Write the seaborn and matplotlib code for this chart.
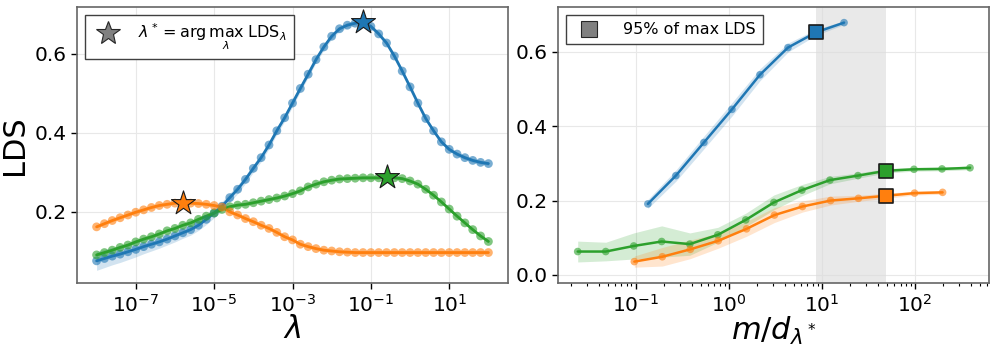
import numpy as np
import pandas as pd
import matplotlib
matplotlib.use("Agg")
import matplotlib.pyplot as plt
import seaborn as sns
from matplotlib.lines import Line2D
from matplotlib.ticker import NullLocator

# ---------------- data: left panel (LDS vs lambda) ----------------
lam = np.logspace(-8, 2, 51)

lds_blue = [0.076, 0.082, 0.088, 0.093, 0.099, 0.105, 0.112, 0.118, 0.124, 0.131,
            0.139, 0.147, 0.155, 0.166, 0.181, 0.197, 0.214, 0.236, 0.257, 0.282,
            0.310, 0.337, 0.369, 0.405, 0.438, 0.475, 0.512, 0.548, 0.585, 0.617,
            0.644, 0.663, 0.672, 0.677, 0.679, 0.669, 0.650, 0.627, 0.594, 0.556,
            0.516, 0.475, 0.436, 0.405, 0.377, 0.358, 0.346, 0.337, 0.330, 0.325,
            0.322]
sd_blue = [0.024, 0.023, 0.022, 0.021, 0.020, 0.019, 0.018, 0.017, 0.016, 0.015,
           0.015, 0.014, 0.014, 0.013, 0.013, 0.012, 0.012, 0.011, 0.011, 0.010,
           0.010, 0.010, 0.009, 0.009, 0.009, 0.009, 0.008, 0.008, 0.008, 0.008,
           0.007, 0.007, 0.007, 0.006, 0.006, 0.006, 0.006, 0.006, 0.006, 0.006,
           0.005, 0.005, 0.005, 0.005, 0.005, 0.005, 0.005, 0.005, 0.005, 0.005,
           0.005]

lds_orange = [0.162, 0.170, 0.178, 0.185, 0.192, 0.199, 0.205, 0.211, 0.216, 0.219,
              0.222, 0.223, 0.222, 0.221, 0.219, 0.216, 0.212, 0.200, 0.192, 0.183,
              0.175, 0.166, 0.158, 0.148, 0.137, 0.129, 0.118, 0.112, 0.107, 0.103,
              0.101, 0.099, 0.098, 0.097, 0.097, 0.097, 0.097, 0.097, 0.097, 0.097,
              0.097, 0.097, 0.097, 0.097, 0.097, 0.097, 0.097, 0.097, 0.097, 0.097,
              0.097]

lds_green = [0.091, 0.097, 0.103, 0.110, 0.116, 0.124, 0.131, 0.137, 0.144, 0.152,
             0.158, 0.166, 0.172, 0.181, 0.189, 0.197, 0.206, 0.213, 0.217, 0.219,
             0.223, 0.227, 0.231, 0.235, 0.240, 0.246, 0.253, 0.263, 0.270, 0.276,
             0.280, 0.283, 0.284, 0.285, 0.286, 0.286, 0.286, 0.288, 0.286, 0.284,
             0.278, 0.270, 0.257, 0.242, 0.225, 0.207, 0.189, 0.172, 0.155, 0.139,
             0.125]
sd_thin = 0.003

# ---------------- data: right panel (LDS vs m/d) ----------------
md_blue = [0.135, 0.27, 0.54, 1.08, 2.16, 4.32, 8.65, 17.3]
rl_blue = [0.191, 0.267, 0.356, 0.445, 0.538, 0.611, 0.652, 0.678]
re_blue = [0.012, 0.015, 0.017, 0.018, 0.016, 0.012, 0.008, 0.005]

md_green = [0.0238, 0.0476, 0.0952, 0.19, 0.381, 0.762, 1.52, 3.05, 6.1, 12.2,
            24.4, 48.8, 97.5, 195, 390]
rl_green = [0.063, 0.063, 0.078, 0.090, 0.083, 0.108, 0.148, 0.195, 0.228, 0.255,
            0.267, 0.280, 0.284, 0.285, 0.288]
re_green = [0.028, 0.025, 0.035, 0.042, 0.030, 0.020, 0.018, 0.020, 0.015, 0.010,
            0.007, 0.006, 0.005, 0.005, 0.005]

md_orange = [0.0966, 0.193, 0.386, 0.77, 1.55, 3.09, 6.18, 12.4, 24.7, 49.4, 98.9, 198]
rl_orange = [0.036, 0.049, 0.069, 0.092, 0.124, 0.161, 0.184, 0.200, 0.206, 0.213,
             0.220, 0.222]
re_orange = [0.015, 0.025, 0.025, 0.020, 0.020, 0.020, 0.015, 0.012, 0.008, 0.007,
             0.005, 0.005]

C_BLUE, C_ORANGE, C_GREEN = "#1f77b4", "#ff7f0e", "#2ca02c"

sns.set_style("whitegrid", {"axes.edgecolor": "0.35", "grid.color": "0.91",
                            "xtick.bottom": True, "ytick.left": True,
                            "xtick.color": "black", "ytick.color": "black",
                            "text.color": "black", "axes.labelcolor": "black"})
plt.rcParams["font.family"] = ["DejaVu Sans"]
plt.rcParams["mathtext.fontset"] = "dejavusans"

fig = plt.figure(figsize=(9.97, 3.48), dpi=100)
axL = fig.add_axes([77 / 997, 65 / 348, 431 / 997, 276 / 348])
axR = fig.add_axes([558 / 997, 65 / 348, 431 / 997, 276 / 348])

# ---------------- left panel ----------------
left_series = [(lds_blue, sd_blue, C_BLUE), (lds_green, None, C_GREEN),
               (lds_orange, None, C_ORANGE)]
for vals, sd, col in left_series:
    v = np.asarray(vals)
    s = np.asarray(sd) if sd is not None else np.full_like(v, sd_thin)
    axL.fill_between(lam, v - s, v + s, color=col, alpha=0.2, lw=0, zorder=2)
    sns.lineplot(x=lam, y=v, ax=axL, color=col, lw=2.0, zorder=3)
    sns.scatterplot(x=lam, y=v, ax=axL, color=col, s=40, alpha=0.6,
                    edgecolor="none", zorder=4)
    k = int(np.argmax(v))
    sns.scatterplot(x=[lam[k]], y=[v[k]], ax=axL, color=col, marker="*", s=330,
                    edgecolor="0.1", linewidth=0.8, zorder=6)

axL.set_xscale("log")
axL.set_xticks([1e-7, 1e-5, 1e-3, 1e-1, 1e1])
axL.xaxis.set_minor_locator(NullLocator())
axL.set_xlim(10 ** -8.5, 10 ** 2.5)
axL.set_ylim(0.02, 0.718)
axL.set_yticks([0.2, 0.4, 0.6])
axL.set_xlabel(r"$\lambda$", fontsize=22, labelpad=0)
axL.set_ylabel("LDS", fontsize=22, labelpad=4)
axL.tick_params(labelsize=14.5, length=4, width=1)

hL = [Line2D([], [], marker="*", color="gray", markeredgecolor="0.15",
             markeredgewidth=0.8, linestyle="none", markersize=18)]
legL = axL.legend(hL, [r"$\lambda^* = \arg\max_{\lambda}\;\mathrm{LDS}_{\lambda}$"],
                  loc="upper left", fontsize=11.5, frameon=True, fancybox=False,
                  framealpha=1, edgecolor="0.25", handletextpad=0.9,
                  borderpad=0.45, bbox_to_anchor=(0.0, 1.0))
legL.get_frame().set_linewidth(1.0)

# ---------------- right panel ----------------
right_series = [(md_blue, rl_blue, re_blue, C_BLUE),
                (md_green, rl_green, re_green, C_GREEN),
                (md_orange, rl_orange, re_orange, C_ORANGE)]
sq_x = []
for xs, vals, err, col in right_series:
    x = np.asarray(xs)
    v = np.asarray(vals)
    e = np.asarray(err)
    axR.fill_between(x, v - e, v + e, color=col, alpha=0.2, lw=0, zorder=2)
    sns.lineplot(x=x, y=v, ax=axR, color=col, lw=1.8, zorder=3)
    sns.scatterplot(x=x, y=v, ax=axR, color=col, s=30, alpha=0.6,
                    edgecolor="none", zorder=4)
    k = int(np.argmax(v >= 0.95 * v.max()))
    sq_x.append(x[k])
    sns.scatterplot(x=[x[k]], y=[v[k]], ax=axR, color=col, marker="s", s=100,
                    edgecolor="0.1", linewidth=1.2, zorder=6)

axR.axvspan(min(sq_x), max(sq_x), color="0.86", alpha=0.6, lw=0, zorder=1)
axR.set_xscale("log")
axR.set_xlim(10 ** -1.835, 10 ** 2.795)
axR.set_ylim(-0.0215, 0.72)
axR.set_yticks([0.0, 0.2, 0.4, 0.6])
axR.set_xlabel(r"$m/d_{\lambda^*}$", fontsize=22, labelpad=0)
axR.tick_params(labelsize=14.5, length=4, width=1)
axR.tick_params(which="minor", length=2.5, width=0.8, bottom=True)

hR = [Line2D([], [], marker="s", color="gray", markeredgecolor="0.15",
             markeredgewidth=0.8, linestyle="none", markersize=11)]
legR = axR.legend(hR, ["95% of max LDS"], loc="upper left", fontsize=11.5,
                  frameon=True, fancybox=False, framealpha=1, edgecolor="0.25",
                  handletextpad=1.1, borderpad=0.45)
legR.get_frame().set_linewidth(1.0)

for ax in (axL, axR):
    for sp in ax.spines.values():
        sp.set_linewidth(1.2)
        sp.set_color("0.4")
    ax.set_axisbelow(True)

fig.savefig("out.png", dpi=100)
